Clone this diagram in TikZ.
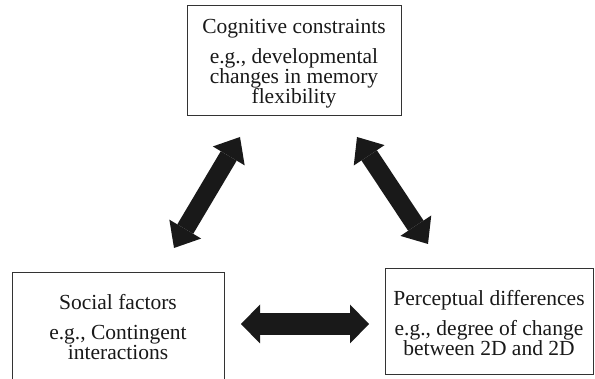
\documentclass[tikz,border=0pt]{standalone}
\usepackage{fontspec}
\setmainfont{Liberation Serif}
\usetikzlibrary{arrows.meta}
\begin{document}
\begin{tikzpicture}[x=1pt,y=-1pt,
  box/.style={draw=black!80, line width=1pt, align=center, inner sep=0pt,
    font=\fontsize{21.5}{20}\selectfont, text=black!90},
  darrow/.style n args={3}{draw=black!90, line width=#1,
    {Triangle[length=#3,width=#2,line width=0pt]}-{Triangle[length=#3,width=#2,line width=0pt]}}]
\useasboundingbox (0,0) rectangle (595,379);
\node[box, minimum width=214pt, minimum height=110pt] (cog) at (294,61)
  {\rule{0pt}{20.6pt}Cognitive constraints\\[10pt]e.g., developmental\\changes in memory\\flexibility};
\node[box, minimum width=212pt, minimum height=108pt] (soc) at (118,327)
  {Social factors\\[10pt]e.g., Contingent\\interactions};
\node[box, minimum width=208pt, minimum height=106pt] (per) at (489,322)
  {\rule{0pt}{18pt}Perceptual differences\\[10pt]e.g., degree of change\\between 2D and 2D};
\coordinate (l1) at (174,248);
\coordinate (l2) at (240,137);
\coordinate (r1) at (357,137);
\coordinate (r2) at (428,244);
\coordinate (h1) at (241,324);
\coordinate (h2) at (369,324);
\draw[darrow={18.5pt}{37pt}{22pt}] (l1) -- (l2);
\draw[darrow={18.5pt}{37pt}{22pt}] (r1) -- (r2);
\draw[darrow={22pt}{39pt}{19pt}] (h1) -- (h2);
\end{tikzpicture}
\end{document}
